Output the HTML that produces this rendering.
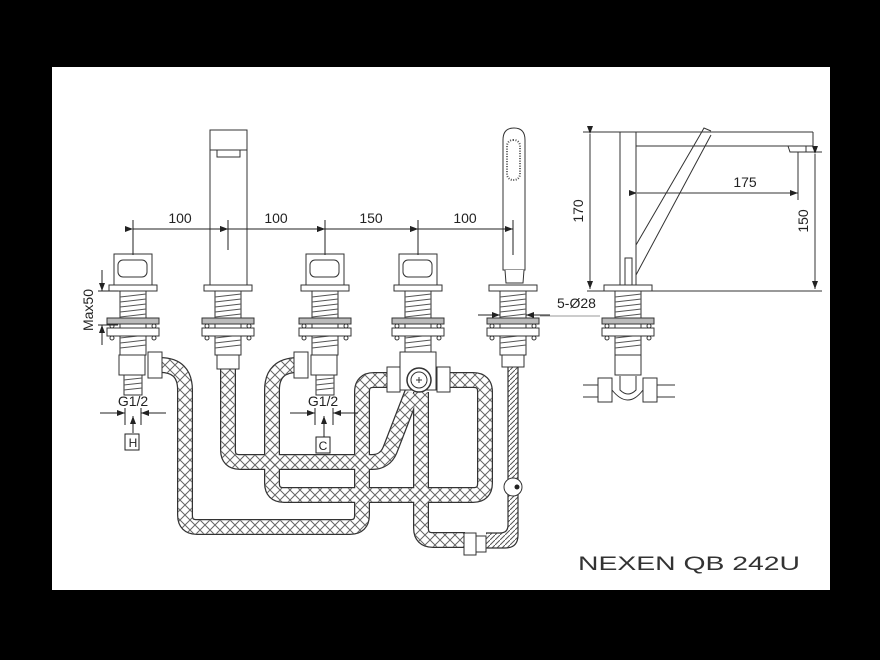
<!DOCTYPE html>
<html><head><meta charset="utf-8"><style>
html,body{margin:0;padding:0;background:#000;}
svg{display:block;}
text{font-family:"Liberation Sans",sans-serif;fill:#222;}
</style></head><body>
<svg width="880" height="660" viewBox="0 0 880 660" xmlns="http://www.w3.org/2000/svg">
<defs>
<pattern id="hatch" width="10" height="10" patternUnits="userSpaceOnUse">
<path d="M0 0L10 10M0 10L10 0" stroke="#666" stroke-width="1" fill="none"/>
</pattern>
<pattern id="diag" width="5" height="5" patternUnits="userSpaceOnUse">
<path d="M0 5L5 0" stroke="#555" stroke-width="1" fill="none"/>
</pattern>
<marker id="ar" markerWidth="8" markerHeight="6" refX="8" refY="3" orient="auto" markerUnits="userSpaceOnUse">
<path d="M0 0L8 3L0 6z" fill="#222"/></marker>
<g id="valve">
<rect x="-19" y="-31" width="38" height="31" fill="#fff" stroke="#333"/>
<rect x="-15" y="-25" width="29" height="17" rx="5" fill="#fff" stroke="#333"/>
<g id="base">
<rect x="-24" y="0" width="48" height="6" fill="#fff" stroke="#333"/>
<rect x="-13" y="6" width="26" height="64" fill="#fff" stroke="#333"/>
<path d="M-13 12L13 9M-13 17L13 14M-13 22L13 19M-13 27L13 24M-13 32L13 29M-13 37L13 34M-13 48L13 45M-13 53L13 50M-13 58L13 55M-13 63L13 60" stroke="#555"/>
<rect x="-26" y="33" width="52" height="6" fill="#bbb" stroke="#333"/>
<rect x="-26" y="43" width="52" height="8" fill="#fff" stroke="#333"/>
<circle cx="-21" cy="41" r="2" fill="#fff" stroke="#333"/><circle cx="21" cy="41" r="2" fill="#fff" stroke="#333"/>
<circle cx="-21" cy="53" r="2" fill="#fff" stroke="#333"/><circle cx="21" cy="53" r="2" fill="#fff" stroke="#333"/>
</g>
</g>
</defs>
<rect x="52" y="67" width="778" height="523" fill="#fff"/>

<g fill="none" stroke-linejoin="round">
<g stroke="#333" stroke-width="16">
<path d="M160 365 Q185 365 185 390 L185 515 Q185 527 197 527 L350 527 Q362 527 362 515 L362 392 Q362 380 374 380 L390 380"/>
<path d="M228 365 L228 450 Q228 462 240 462 L372 462 Q385 462 390 450 L412 393"/>
<path d="M298 365 Q272 365 272 390 L272 483 Q272 495 284 495 L473 495 Q485 495 485 483 L485 392 Q485 380 473 380 L450 380"/>
<path d="M421 392 L421 528 Q421 540 433 540 L465 540"/>
</g>
<g stroke="#fff" stroke-width="13.5">
<path d="M160 365 Q185 365 185 390 L185 515 Q185 527 197 527 L350 527 Q362 527 362 515 L362 392 Q362 380 374 380 L390 380"/>
<path d="M228 365 L228 450 Q228 462 240 462 L372 462 Q385 462 390 450 L412 393"/>
<path d="M298 365 Q272 365 272 390 L272 483 Q272 495 284 495 L473 495 Q485 495 485 483 L485 392 Q485 380 473 380 L450 380"/>
<path d="M421 392 L421 528 Q421 540 433 540 L465 540"/>
</g>
<g stroke="url(#hatch)" stroke-width="13.5">
<path d="M160 365 Q185 365 185 390 L185 515 Q185 527 197 527 L350 527 Q362 527 362 515 L362 392 Q362 380 374 380 L390 380"/>
<path d="M228 365 L228 450 Q228 462 240 462 L372 462 Q385 462 390 450 L412 393"/>
<path d="M298 365 Q272 365 272 390 L272 483 Q272 495 284 495 L473 495 Q485 495 485 483 L485 392 Q485 380 473 380 L450 380"/>
<path d="M421 392 L421 528 Q421 540 433 540 L465 540"/>
</g>
<path d="M500 533 Q508 533 508 525 L508 365 L518 365 L518 535 Q518 548 505 548 L486 548 L486 533z" fill="url(#diag)" stroke="none"/>
<path d="M486 548 L505 548 Q518 548 518 535 L518 365 M486 533 L500 533 Q508 533 508 525 L508 365" stroke="#333" stroke-width="1.2"/>
</g>
<circle cx="513" cy="487" r="9" fill="#fff" stroke="#333"/><circle cx="517" cy="487" r="2.5" fill="#222"/>
<rect x="464" y="533" width="12" height="22" fill="#fff" stroke="#333"/><rect x="476" y="536" width="10" height="16" fill="#fff" stroke="#333"/>

<use href="#valve" x="133" y="285"/>
<use href="#valve" x="325" y="285"/>
<use href="#valve" x="418" y="285"/>
<use href="#base" x="228" y="285"/>
<use href="#base" x="513" y="285"/>
<rect x="210" y="130" width="37" height="155" fill="#fff" stroke="#333"/>
<line x1="210" y1="150" x2="247" y2="150" stroke="#333"/>
<rect x="217" y="150" width="23" height="7" fill="#fff" stroke="#333"/>
<path d="M503 270 L503 140 Q503 128 514 128 Q525 128 525 140 L525 270 Z" fill="#fff" stroke="#333"/>
<rect x="507" y="140" width="13" height="40" rx="6" fill="none" stroke="#555" stroke-dasharray="1 1.5" stroke-width="2"/>
<path d="M505 270 L506 283 L523 283 L524 270" fill="#fff" stroke="#333"/>
<rect x="119" y="355" width="26" height="20" fill="#fff" stroke="#333"/>
<rect x="124" y="375" width="18" height="20" fill="#fff" stroke="#333"/>
<path d="M124 380L142 378M124 385L142 383M124 390L142 388" stroke="#555"/>
<rect x="148" y="352" width="14" height="26" fill="#fff" stroke="#333"/>
<rect x="311" y="355" width="26" height="20" fill="#fff" stroke="#333"/>
<rect x="316" y="375" width="18" height="20" fill="#fff" stroke="#333"/>
<path d="M316 380L334 378M316 385L334 383M316 390L334 388" stroke="#555"/>
<rect x="294" y="352" width="14" height="26" fill="#fff" stroke="#333"/>
<rect x="217" y="355" width="22" height="14" fill="#fff" stroke="#333"/>
<rect x="502" y="355" width="22" height="12" fill="#fff" stroke="#333"/>
<rect x="400" y="352" width="36" height="38" fill="#fff" stroke="#333"/>
<rect x="387" y="367" width="13" height="25" fill="#fff" stroke="#333"/>
<rect x="437" y="367" width="13" height="25" fill="#fff" stroke="#333"/>
<circle cx="419" cy="380" r="12" fill="#fff" stroke="#333" stroke-width="1.5"/>
<circle cx="419" cy="380" r="8" fill="#fff" stroke="#333"/>
<path d="M416 380h6M419 377v6" stroke="#333"/>

<g stroke="#222" stroke-width="1" fill="none">
<line x1="133" y1="220" x2="133" y2="255"/>
<line x1="228" y1="220" x2="228" y2="250"/>
<line x1="325" y1="220" x2="325" y2="255"/>
<line x1="418" y1="220" x2="418" y2="255"/>
<line x1="513" y1="220" x2="513" y2="255"/>
<line x1="133" y1="229" x2="228" y2="229" marker-start="url(#ar)" marker-end="url(#ar)"/>
<line x1="228" y1="229" x2="325" y2="229" marker-start="url(#ar)" marker-end="url(#ar)"/>
<line x1="325" y1="229" x2="418" y2="229" marker-start="url(#ar)" marker-end="url(#ar)"/>
<line x1="418" y1="229" x2="513" y2="229" marker-start="url(#ar)" marker-end="url(#ar)"/>
<line x1="98" y1="291" x2="118" y2="291"/>
<line x1="98" y1="325" x2="118" y2="325"/>
<line x1="102" y1="270" x2="102" y2="291" marker-end="url(#ar)"/>
<line x1="102" y1="345" x2="102" y2="325" marker-end="url(#ar)"/>
<line x1="125" y1="408" x2="125" y2="425"/><line x1="141" y1="408" x2="141" y2="425"/>
<line x1="100" y1="413" x2="125" y2="413" marker-end="url(#ar)"/><line x1="166" y1="413" x2="141" y2="413" marker-end="url(#ar)"/>
<line x1="133" y1="433" x2="133" y2="416" marker-end="url(#ar)"/>
<line x1="315" y1="408" x2="315" y2="425"/><line x1="333" y1="408" x2="333" y2="425"/>
<line x1="290" y1="413" x2="315" y2="413" marker-end="url(#ar)"/><line x1="358" y1="413" x2="333" y2="413" marker-end="url(#ar)"/>
<line x1="324" y1="437" x2="324" y2="416" marker-end="url(#ar)"/>
<line x1="478" y1="315" x2="500" y2="315" marker-end="url(#ar)"/>
<line x1="550" y1="315" x2="526" y2="315" marker-end="url(#ar)"/>
<line x1="540" y1="316" x2="600" y2="316" stroke="#999"/>
</g>
<rect x="125" y="434" width="14" height="16" fill="#fff" stroke="#222"/>
<rect x="316" y="437" width="14" height="16" fill="#fff" stroke="#222"/>
<text x="133" y="447" font-size="12" text-anchor="middle">H</text>
<text x="323" y="450" font-size="12" text-anchor="middle">C</text>
<text x="133" y="406" font-size="14" text-anchor="middle">G1/2</text>
<text x="323" y="406" font-size="14" text-anchor="middle">G1/2</text>
<text x="180" y="223" font-size="14" text-anchor="middle">100</text>
<text x="276" y="223" font-size="14" text-anchor="middle">100</text>
<text x="371" y="223" font-size="14" text-anchor="middle">150</text>
<text x="465" y="223" font-size="14" text-anchor="middle">100</text>
<text x="557" y="308" font-size="14">5-Ø28</text>
<text transform="translate(93,310) rotate(-90)" font-size="14" text-anchor="middle">Max50</text>

<g stroke="#333" fill="none">
<line x1="587" y1="291" x2="822" y2="291"/>
<line x1="583" y1="132" x2="813" y2="132"/>
<path d="M620 132 L620 285 M636 132 L636 285 M636 146 L813 146 L813 132"/>
<path d="M636 245 L700 135 M636 275 L711 135 M700 135 L704 128 L711 131"/>
<path d="M788 146 L790 152 L806 152 L806 146 M800 152 L822 152"/>
<rect x="625" y="258" width="7" height="27" fill="#fff"/>
<line x1="590" y1="134" x2="590" y2="289" marker-start="url(#ar)" marker-end="url(#ar)"/>
<line x1="815" y1="154" x2="815" y2="289" marker-start="url(#ar)" marker-end="url(#ar)"/>
<line x1="798" y1="152" x2="798" y2="200"/>
<line x1="637" y1="193" x2="798" y2="193" marker-start="url(#ar)" marker-end="url(#ar)"/>
</g>
<use href="#base" x="628" y="285"/>
<rect x="615" y="355" width="26" height="20" fill="#fff" stroke="#333"/>
<path d="M583 385 H600 M583 397 H600 M656 385 H675 M656 397 H675" stroke="#333"/>
<rect x="598" y="378" width="14" height="24" fill="#fff" stroke="#333"/>
<rect x="643" y="378" width="14" height="24" fill="#fff" stroke="#333"/>
<path d="M612 380 L612 390 Q628 410 643 390 L643 380" fill="#fff" stroke="#333"/>
<path d="M620 376 L620 390 Q628 398 636 390 L636 376" fill="#fff" stroke="#333"/>
<text x="745" y="187" font-size="14" text-anchor="middle">175</text>
<text transform="translate(583,211) rotate(-90)" font-size="14" text-anchor="middle">170</text>
<text transform="translate(808,221) rotate(-90)" font-size="14" text-anchor="middle">150</text>
<text x="578" y="570" font-size="19" textLength="222" lengthAdjust="spacingAndGlyphs" style="font-weight:normal;fill:#333">NEXEN QB 242U</text>
</svg>
</body></html>
